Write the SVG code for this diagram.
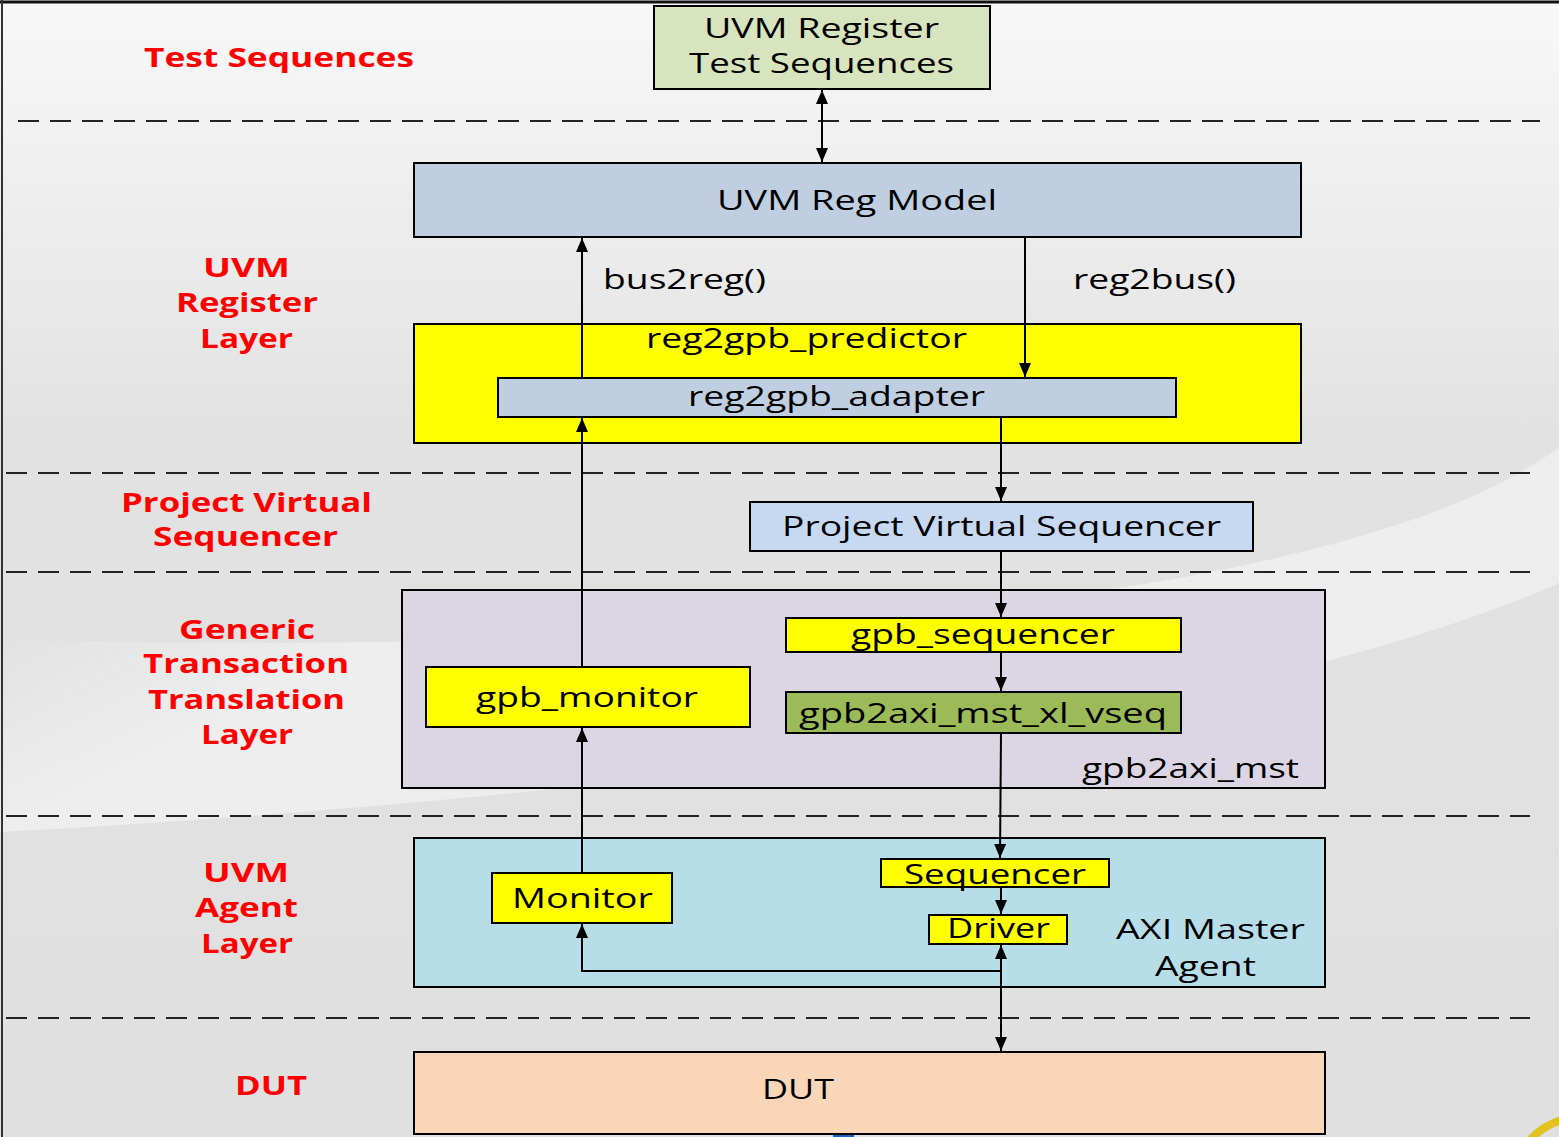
<svg xmlns="http://www.w3.org/2000/svg" width="1559" height="1137" viewBox="0 0 1559 1137">
<defs>
<linearGradient id="bg" x1="0" y1="0" x2="0" y2="1">
<stop offset="0" stop-color="#f8f8f8"/>
<stop offset="0.38" stop-color="#e2e2e2"/>
<stop offset="1" stop-color="#e0e0e0"/>
</linearGradient>
<linearGradient id="sw" gradientUnits="userSpaceOnUse" x1="0" y1="630" x2="80" y2="790">
<stop offset="0" stop-color="#f0f0f0" stop-opacity="0"/>
<stop offset="1" stop-color="#efefef" stop-opacity="0.9"/>
</linearGradient>
<marker id="ah" viewBox="0 0 14 12" refX="14" refY="6" markerWidth="14" markerHeight="12" markerUnits="userSpaceOnUse" orient="auto-start-reverse">
<path d="M0 0 L14 6 L0 12 Z" fill="#000"/>
</marker>
<style>
.box{stroke:#000;stroke-width:2}
.t{font-family:"Open Sans","DejaVu Sans",sans-serif;font-size:28px;fill:#000}
.r{font-family:"Open Sans","DejaVu Sans",sans-serif;font-size:27px;font-weight:700;fill:#ff0000}
.dash{stroke:#222;stroke-width:2;stroke-dasharray:21 11;fill:none}
.c{stroke:#000;stroke-width:2;fill:none}
</style>
</defs>

<g id="background">
<rect x="0" y="0" width="1559" height="1137" fill="url(#bg)"/>
<path d="M1559 447 C1400 570 900 660 0 640 L0 832 C600 800 1250 720 1559 583 Z" fill="url(#sw)"/>
<path d="M1530 1140 Q1542 1126 1562 1120" stroke="#e2c21e" stroke-width="8" fill="none"/>
<rect x="833" y="1134" width="21" height="3" fill="#1565c0"/>
<line x1="0" y1="2" x2="1559" y2="2" stroke="#111" stroke-width="3"/>
<line x1="2" y1="0" x2="2" y2="1137" stroke="#333" stroke-width="2"/>
</g>

<g id="separators">
<line class="dash" x1="18" y1="121" x2="1540" y2="121"/>
<line class="dash" x1="6" y1="473" x2="1530" y2="473"/>
<line class="dash" x1="6" y1="572" x2="1530" y2="572"/>
<line class="dash" x1="6" y1="816" x2="1530" y2="816"/>
<line class="dash" x1="6" y1="1018" x2="1530" y2="1018"/>
</g>

<g id="layer-labels">
<text class="r" x="144" y="67" textLength="270" lengthAdjust="spacingAndGlyphs">Test Sequences</text>
<text class="r" x="203" y="277" textLength="87" lengthAdjust="spacingAndGlyphs">UVM</text>
<text class="r" x="176" y="312" textLength="142" lengthAdjust="spacingAndGlyphs">Register</text>
<text class="r" x="200" y="348" textLength="93" lengthAdjust="spacingAndGlyphs">Layer</text>
<text class="r" x="121" y="512" textLength="251" lengthAdjust="spacingAndGlyphs">Project Virtual</text>
<text class="r" x="153" y="546" textLength="185" lengthAdjust="spacingAndGlyphs">Sequencer</text>
<text class="r" x="179" y="639" textLength="136" lengthAdjust="spacingAndGlyphs">Generic</text>
<text class="r" x="143" y="673" textLength="206" lengthAdjust="spacingAndGlyphs">Transaction</text>
<text class="r" x="148" y="709" textLength="197" lengthAdjust="spacingAndGlyphs">Translation</text>
<text class="r" x="201" y="744" textLength="92" lengthAdjust="spacingAndGlyphs">Layer</text>
<text class="r" x="203" y="882" textLength="86" lengthAdjust="spacingAndGlyphs">UVM</text>
<text class="r" x="195" y="917" textLength="103" lengthAdjust="spacingAndGlyphs">Agent</text>
<text class="r" x="201" y="953" textLength="92" lengthAdjust="spacingAndGlyphs">Layer</text>
<text class="r" x="235" y="1095" textLength="72" lengthAdjust="spacingAndGlyphs">DUT</text>
</g>

<g id="test-sequences">
<rect class="box" x="654" y="6" width="336" height="83" fill="#d7e4bd"/>
<text class="t" x="704" y="38" textLength="235" lengthAdjust="spacingAndGlyphs">UVM Register</text>
<text class="t" x="689" y="73" textLength="265" lengthAdjust="spacingAndGlyphs">Test Sequences</text>
</g>

<g id="reg-model">
<rect class="box" x="414" y="163" width="887" height="74" fill="#bfcfe1"/>
<text class="t" x="717" y="210" textLength="280" lengthAdjust="spacingAndGlyphs">UVM Reg Model</text>
</g>

<g id="predictor">
<rect class="box" x="414" y="324" width="887" height="119" fill="#ffff00"/>
<text class="t" x="646" y="348" textLength="321" lengthAdjust="spacingAndGlyphs">reg2gpb_predictor</text>
</g>

<g id="adapter">
<rect class="box" x="498" y="378" width="678" height="39" fill="#bfcfe1"/>
<text class="t" x="688" y="406" textLength="297" lengthAdjust="spacingAndGlyphs">reg2gpb_adapter</text>
</g>

<g id="virtual-sequencer">
<rect class="box" x="750" y="502" width="503" height="49" fill="#c6d9f0"/>
<text class="t" x="782" y="536" textLength="439" lengthAdjust="spacingAndGlyphs">Project Virtual Sequencer</text>
</g>

<g id="gpb2axi-mst">
<rect class="box" x="402" y="590" width="923" height="198" fill="#dcd6e4"/>
<text class="t" x="1082" y="778" textLength="217" lengthAdjust="spacingAndGlyphs">gpb2axi_mst</text>
</g>

<g id="gpb-sequencer">
<rect class="box" x="786" y="618" width="395" height="34" fill="#ffff00"/>
<text class="t" x="851" y="644" textLength="264" lengthAdjust="spacingAndGlyphs">gpb_sequencer</text>
</g>

<g id="gpb-monitor">
<rect class="box" x="426" y="667" width="324" height="60" fill="#ffff00"/>
<text class="t" x="476" y="707" textLength="222" lengthAdjust="spacingAndGlyphs">gpb_monitor</text>
</g>

<g id="xl-vseq">
<rect class="box" x="786" y="692" width="395" height="41" fill="#9bbb59"/>
<text class="t" x="799" y="723" textLength="368" lengthAdjust="spacingAndGlyphs">gpb2axi_mst_xl_vseq</text>
</g>

<g id="axi-agent">
<rect class="box" x="414" y="838" width="911" height="149" fill="#b7dde8"/>
<text class="t" x="1116" y="939" textLength="189" lengthAdjust="spacingAndGlyphs">AXI Master</text>
<text class="t" x="1155" y="976" textLength="101" lengthAdjust="spacingAndGlyphs">Agent</text>
</g>

<g id="sequencer">
<rect class="box" x="881" y="859" width="228" height="28" fill="#ffff00"/>
<text class="t" x="904" y="884" textLength="182" lengthAdjust="spacingAndGlyphs">Sequencer</text>
</g>

<g id="monitor">
<rect class="box" x="492" y="873" width="180" height="50" fill="#ffff00"/>
<text class="t" x="512" y="908" textLength="141" lengthAdjust="spacingAndGlyphs">Monitor</text>
</g>

<g id="driver">
<rect class="box" x="929" y="915" width="138" height="29" fill="#ffff00"/>
<text class="t" x="947" y="938" textLength="103" lengthAdjust="spacingAndGlyphs">Driver</text>
</g>

<g id="dut">
<rect class="box" x="414" y="1052" width="911" height="82" fill="#fad6b8"/>
<text class="t" x="762" y="1099" textLength="72" lengthAdjust="spacingAndGlyphs">DUT</text>
</g>

<g id="connectors">
<path class="c" d="M822 90 L822 162" marker-start="url(#ah)" marker-end="url(#ah)"/>
<path class="c" d="M582 377 L582 238" marker-end="url(#ah)"/>
<path class="c" d="M1025 238 L1025 377" marker-end="url(#ah)"/>
<path class="c" d="M1001 418 L1001 501" marker-end="url(#ah)"/>
<path class="c" d="M1001 552 L1001 617" marker-end="url(#ah)"/>
<path class="c" d="M1001 653 L1001 691" marker-end="url(#ah)"/>
<path class="c" d="M1001 734 L1000 858" marker-end="url(#ah)"/>
<path class="c" d="M1001 888 L1001 914" marker-end="url(#ah)"/>
<path class="c" d="M1001 945 L1001 1051" marker-start="url(#ah)" marker-end="url(#ah)"/>
<path class="c" d="M1001 971 L582 971 L582 924" marker-end="url(#ah)"/>
<path class="c" d="M582 873 L582 728" marker-end="url(#ah)"/>
<path class="c" d="M582 667 L582 418" marker-end="url(#ah)"/>
<text class="t" x="603" y="289" textLength="163" lengthAdjust="spacingAndGlyphs">bus2reg()</text>
<text class="t" x="1073" y="289" textLength="163" lengthAdjust="spacingAndGlyphs">reg2bus()</text>
</g>
</svg>
